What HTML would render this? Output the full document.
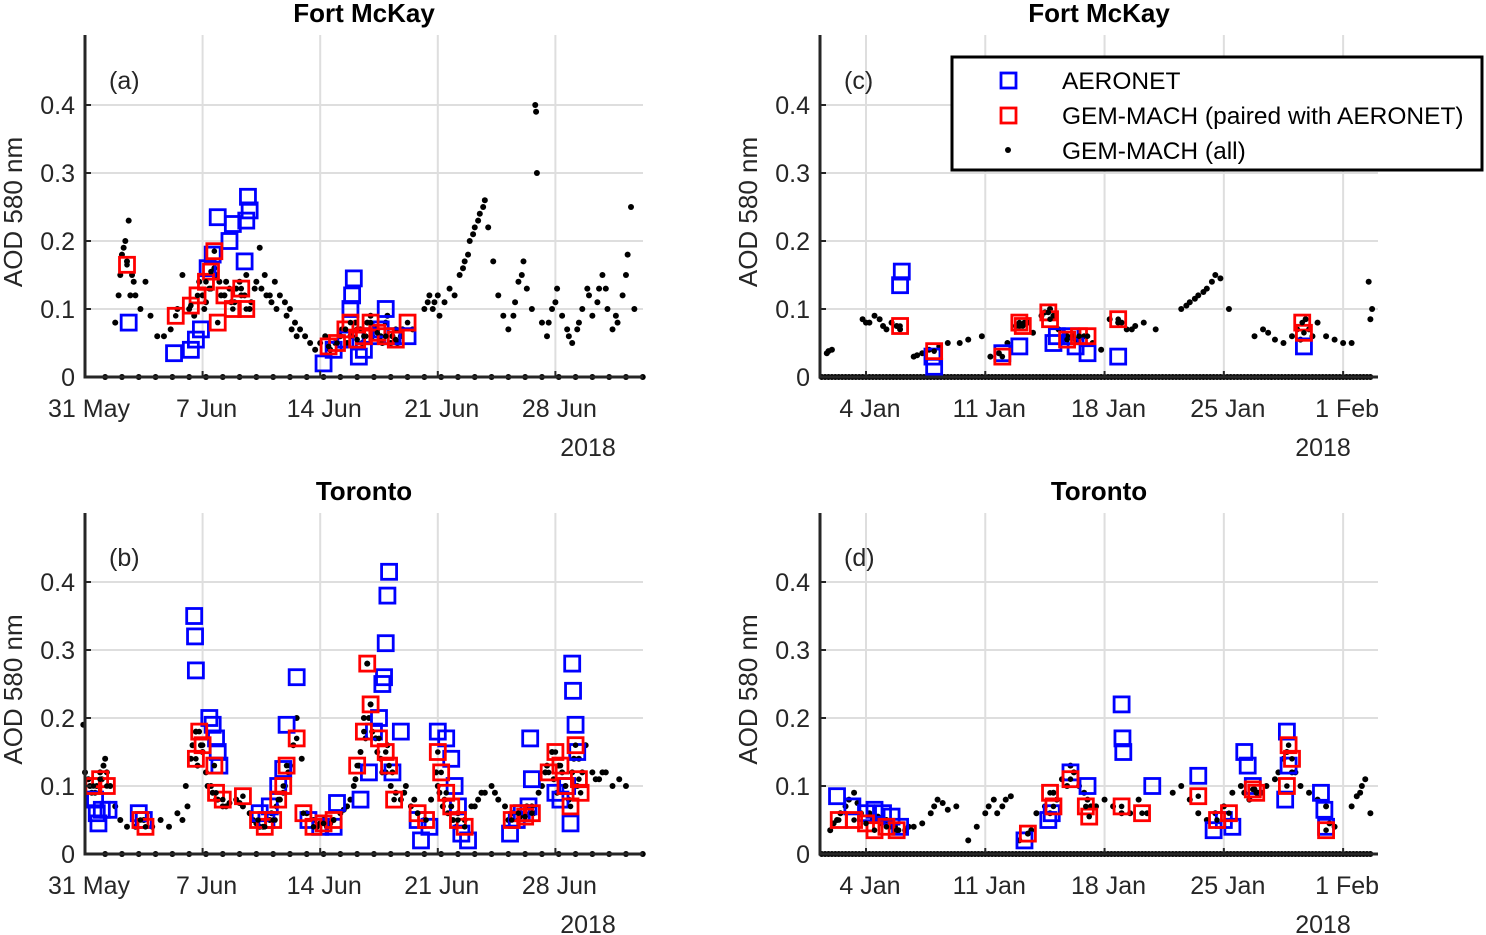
<!DOCTYPE html>
<html><head><meta charset="utf-8"><style>
html,body{margin:0;padding:0;background:#fff;}
svg{display:block;font-family:"Liberation Sans",Arial,sans-serif;}
</style></head><body>
<svg id="chart" width="1486" height="935" viewBox="0 0 1486 935"></svg>
<script>
// ---- Data (day offsets; panels a,b from 31 May 2018, panels c,d from 4 Jan 2018) ----
const panelLetters = ["(a)","(b)","(c)","(d)"];
const yTickLabels = ["0","0.1","0.2","0.3","0.4"];
const yTickValues = [0,0.1,0.2,0.3,0.4];
const juneTickLabels = ["31 May","7 Jun","14 Jun","21 Jun","28 Jun"];
const juneTickDays = [0,7,14,21,28];
const janTickLabels = ["4 Jan","11 Jan","18 Jan","25 Jan","1 Feb"];
const janTickDays = [0,7,14,21,28];

const aAllDays = [1.8,2.0,2.2,2.4,2.6,2.8,3.0,3.3,3.6,3.9,4.3,4.7,5.1,5.5,5.8,6.2,6.5,6.8,7.1,7.4,7.7,8.0,8.3,8.6,8.9,9.2,9.5,9.8,10.1,10.4,10.7,11.0,11.3,11.6,11.9,12.2,12.5,12.8,13.1,13.4,13.7,14.0,14.3,14.6,14.9,15.2,15.5,15.8,16.1,16.4,16.7,17.0,17.3,17.6,17.9,18.2,18.5,18.8,19.5,20.2,20.5,20.8,21.1,21.4,21.7,22.0,22.3,22.6,22.9,23.2,23.5,23.8,24.0,24.3,24.6,24.9,25.2,25.5,25.8,26.1,26.3,26.6,26.8,26.85,26.9,27.2,27.5,27.8,28.1,28.4,28.7,29.0,29.3,29.6,29.9,30.2,30.5,30.8,31.1,31.4,31.7,32.0,32.3,32.5,32.7,
 7.0,7.2,7.5,7.8,8.1,8.4,8.7,9.0,9.3,9.6,9.9,10.2,10.5,10.8,11.1,11.4,15.0,15.3,15.6,15.9,16.2,16.5,16.8,17.1,17.4,17.7,18.0,18.3,18.6,18.9,12.0,12.3,12.6,2.1,2.3,2.5,2.7,2.9,20.4,20.7,21.0,22.5,22.8,23.1,23.4,23.7,30.0,31.0,32.2,25.6,26.0,27.6,28.0,28.8,29.4,30.6,31.6];
const aAllVals = [0.08,0.12,0.18,0.2,0.23,0.15,0.12,0.1,0.14,0.09,0.06,0.06,0.07,0.1,0.15,0.1,0.09,0.14,0.1,0.13,0.16,0.14,0.12,0.13,0.11,0.14,0.12,0.1,0.13,0.19,0.15,0.12,0.14,0.12,0.11,0.1,0.08,0.07,0.06,0.05,0.04,0.05,0.06,0.04,0.05,0.06,0.07,0.06,0.08,0.07,0.06,0.09,0.07,0.06,0.08,0.05,0.07,0.06,0.07,0.1,0.12,0.11,0.09,0.11,0.13,0.12,0.15,0.17,0.2,0.22,0.24,0.26,0.22,0.17,0.12,0.09,0.07,0.09,0.14,0.17,0.13,0.1,0.4,0.39,0.3,0.08,0.06,0.1,0.13,0.09,0.07,0.05,0.07,0.1,0.13,0.09,0.11,0.15,0.1,0.07,0.08,0.12,0.18,0.25,0.1,
 0.12,0.11,0.13,0.15,0.12,0.14,0.11,0.13,0.12,0.15,0.11,0.14,0.13,0.12,0.11,0.1,0.05,0.07,0.05,0.06,0.07,0.05,0.08,0.06,0.07,0.05,0.09,0.06,0.05,0.07,0.09,0.07,0.06,0.15,0.19,0.17,0.12,0.14,0.11,0.1,0.12,0.16,0.18,0.21,0.23,0.25,0.12,0.13,0.15,0.11,0.15,0.08,0.11,0.06,0.08,0.13,0.09];
const aAeroDays = [2.6,5.3,6.3,6.6,6.9,7.3,7.6,7.9,8.6,8.8,9.5,9.6,9.7,9.8,14.2,14.8,15.5,15.8,15.9,16.0,16.3,16.6,17.0,17.6,17.9,18.3,19.2];
const aAeroVals = [0.08,0.035,0.04,0.055,0.07,0.16,0.18,0.235,0.2,0.225,0.17,0.23,0.265,0.245,0.02,0.04,0.055,0.1,0.12,0.145,0.03,0.04,0.06,0.07,0.1,0.06,0.06];
const aGemDays = [2.5,5.4,6.3,6.7,7.2,7.5,7.7,7.9,8.3,8.8,9.3,9.6,14.5,15.0,15.5,15.8,16.2,16.6,17.0,17.4,17.9,18.5,19.2];
const aGemVals = [0.165,0.09,0.105,0.12,0.14,0.155,0.185,0.08,0.12,0.1,0.13,0.1,0.045,0.05,0.07,0.08,0.055,0.06,0.08,0.065,0.06,0.055,0.08];

const bAllDays = [-0.1,0,0.3,0.6,0.9,1.2,1.5,1.8,2.1,2.5,3.0,3.5,4.0,4.5,5.0,5.5,6.0,6.3,6.6,6.9,7.2,7.5,7.8,8.2,8.6,9.0,9.4,9.8,10.2,10.6,11.0,11.4,11.8,12.1,12.4,12.6,12.9,13.2,13.6,14.0,14.4,14.8,15.2,15.6,16.0,16.3,16.6,16.8,17.0,17.3,17.6,17.9,18.2,18.5,18.8,19.1,19.4,19.8,20.2,20.6,21.0,21.4,21.8,22.2,22.6,23.0,23.4,23.8,24.2,24.6,25.0,25.4,25.8,26.2,26.6,27.0,27.4,27.8,28.2,28.6,29.0,29.4,29.8,30.2,30.6,31.0,31.4,31.8,32.2,
 0.2,0.4,0.7,1.0,6.4,6.7,7.0,7.3,7.6,7.9,8.4,11.1,11.3,11.6,11.9,12.2,13.8,14.2,14.6,16.1,16.4,16.7,16.9,17.1,17.4,17.7,18.0,18.3,20.9,21.1,21.3,21.6,21.9,22.1,25.2,25.5,25.9,26.3,26.7,27.2,27.5,27.9,28.1,28.4,28.8,29.1,29.3,29.6,30.4,30.8,1.1,1.3,5.8,6.1,9.2,10.0,10.4,15.4,15.8,19.0,19.6,23.2,23.6,24.4];
const bAllVals = [0.19,0.12,0.1,0.09,0.12,0.14,0.1,0.07,0.05,0.04,0.04,0.05,0.04,0.05,0.04,0.06,0.1,0.14,0.18,0.16,0.12,0.1,0.08,0.07,0.075,0.08,0.07,0.06,0.045,0.04,0.05,0.07,0.09,0.12,0.16,0.2,0.14,0.06,0.05,0.045,0.04,0.05,0.06,0.07,0.1,0.13,0.2,0.28,0.22,0.17,0.14,0.12,0.1,0.09,0.08,0.1,0.07,0.06,0.05,0.08,0.1,0.08,0.07,0.06,0.05,0.07,0.08,0.09,0.1,0.08,0.07,0.06,0.05,0.06,0.07,0.09,0.12,0.15,0.13,0.1,0.12,0.14,0.16,0.12,0.11,0.12,0.1,0.11,0.1,
 0.11,0.09,0.1,0.11,0.16,0.13,0.15,0.1,0.09,0.08,0.07,0.06,0.05,0.08,0.1,0.13,0.04,0.05,0.045,0.11,0.15,0.17,0.2,0.18,0.15,0.12,0.16,0.12,0.12,0.09,0.07,0.06,0.05,0.04,0.05,0.06,0.055,0.07,0.06,0.1,0.13,0.11,0.09,0.12,0.08,0.14,0.1,0.12,0.11,0.12,0.13,0.12,0.05,0.07,0.075,0.05,0.04,0.065,0.08,0.09,0.08,0.07,0.09,0.09];
const bAeroDays = [0.6,0.7,0.8,1.0,1.4,3.2,3.5,6.5,6.55,6.6,7.4,7.6,7.8,7.9,8.0,10.4,10.8,11.0,11.5,11.8,12.0,12.6,13.3,14.0,14.8,15.0,16.4,16.9,17.2,17.5,17.7,17.8,17.9,18.0,18.1,18.3,18.8,19.8,20.0,20.5,21.0,21.5,21.8,22.0,22.2,22.4,22.8,25.3,25.7,26.0,26.4,26.6,26.5,28.0,28.3,28.7,28.9,29.0,29.05,29.2,29.3];
const bAeroVals = [0.08,0.06,0.045,0.065,0.065,0.06,0.05,0.35,0.32,0.27,0.2,0.19,0.17,0.15,0.13,0.06,0.05,0.07,0.1,0.125,0.19,0.26,0.05,0.04,0.04,0.075,0.08,0.12,0.18,0.2,0.25,0.26,0.31,0.38,0.415,0.12,0.18,0.05,0.02,0.04,0.18,0.17,0.14,0.1,0.07,0.03,0.02,0.03,0.05,0.06,0.07,0.11,0.17,0.09,0.08,0.1,0.045,0.28,0.24,0.19,0.15];
const bGemDays = [0.5,0.9,1.3,3.3,3.6,6.6,6.8,7.0,7.7,7.8,8.2,9.4,10.3,10.7,11.2,11.5,11.8,12.0,12.6,13.0,13.6,14.2,14.8,16.2,16.6,16.8,17.0,17.5,17.9,18.1,18.4,19.8,20.3,21.0,21.2,21.5,21.8,22.2,22.6,25.4,25.8,26.2,26.6,27.6,28.0,28.3,28.6,28.9,29.2,29.4,29.5];
const bGemVals = [0.1,0.11,0.1,0.05,0.04,0.14,0.18,0.16,0.13,0.09,0.08,0.085,0.05,0.04,0.05,0.08,0.1,0.13,0.17,0.06,0.04,0.045,0.05,0.13,0.18,0.28,0.22,0.17,0.15,0.13,0.08,0.06,0.05,0.15,0.12,0.09,0.07,0.05,0.04,0.05,0.06,0.055,0.06,0.12,0.15,0.13,0.1,0.07,0.16,0.11,0.09];

const cAllDays = [-2.3,-2.0,-0.2,0.2,0.5,1.0,1.5,2.0,2.8,3.3,3.7,4.3,4.8,5.5,6.0,6.8,7.3,7.8,8.3,8.8,9.3,9.8,10.3,10.8,11.3,11.8,12.3,12.8,13.3,13.8,14.3,14.8,15.3,15.8,16.3,17.0,18.5,19.0,19.5,20.0,20.5,20.8,21.3,22.8,23.3,24.0,24.5,25.0,25.5,26.0,26.5,27.0,27.5,28.0,28.5,29.5,29.7,29.6,
 -2.2,0.0,0.8,1.2,1.8,3.0,9.0,9.5,10.5,11.0,11.6,12.1,12.6,15.0,15.6,18.8,19.3,19.8,20.3,23.6,25.3,25.8,26.2];
const cAllVals = [0.035,0.04,0.085,0.08,0.09,0.075,0.08,0.07,0.03,0.035,0.04,0.045,0.05,0.05,0.055,0.06,0.03,0.035,0.05,0.075,0.08,0.065,0.09,0.1,0.07,0.06,0.055,0.06,0.05,0.04,0.085,0.08,0.07,0.075,0.08,0.07,0.1,0.11,0.12,0.13,0.15,0.145,0.1,0.06,0.07,0.055,0.05,0.06,0.055,0.07,0.08,0.06,0.055,0.05,0.05,0.14,0.1,0.085,
 0.038,0.08,0.085,0.07,0.075,0.032,0.075,0.08,0.095,0.09,0.055,0.06,0.058,0.08,0.07,0.105,0.115,0.125,0.14,0.065,0.07,0.085,0.06];
const cAeroDays = [2.0,2.1,3.9,4.0,8.0,9.0,11.0,11.2,12.0,12.3,13.0,14.8,25.7];
const cAeroVals = [0.135,0.155,0.03,0.015,0.035,0.045,0.05,0.06,0.06,0.045,0.035,0.03,0.045];
const cGemDays = [2.0,4.0,8.0,9.0,9.2,10.7,10.8,11.8,12.5,13.0,14.8,25.6,25.7];
const cGemVals = [0.075,0.038,0.03,0.08,0.075,0.095,0.085,0.055,0.06,0.06,0.085,0.08,0.065];

const dAllDays = [-2.1,-1.7,-1.2,-0.7,-0.3,0.2,0.7,1.2,1.7,2.3,2.8,3.3,3.8,4.2,4.8,5.3,6.0,6.5,7.0,7.5,8.0,8.5,9.0,9.5,10.0,10.5,11.0,11.5,12.0,12.5,13.0,13.5,14.0,14.5,15.0,15.5,16.0,16.5,18.0,18.5,19.0,19.5,20.0,20.5,21.0,21.5,22.0,22.5,23.0,23.5,24.0,24.5,25.0,25.5,26.0,26.5,27.0,27.5,28.5,29.0,29.3,29.6,
 -1.9,-1.5,-1.0,-0.5,0.4,0.9,1.4,1.9,2.5,4.0,4.5,7.2,7.7,8.2,9.7,10.8,11.2,11.8,12.2,12.8,13.2,22.2,22.8,23.2,24.2,24.7,25.2,27.2,28.8,29.1];
const dAllVals = [0.035,0.05,0.07,0.09,0.06,0.06,0.055,0.05,0.04,0.035,0.04,0.045,0.06,0.08,0.065,0.07,0.02,0.04,0.06,0.08,0.07,0.085,0.02,0.03,0.06,0.07,0.09,0.11,0.13,0.1,0.08,0.07,0.08,0.07,0.06,0.06,0.08,0.06,0.09,0.1,0.08,0.06,0.05,0.06,0.07,0.09,0.1,0.08,0.09,0.1,0.11,0.14,0.12,0.1,0.09,0.08,0.07,0.04,0.07,0.09,0.11,0.06,
 0.045,0.06,0.08,0.075,0.05,0.045,0.04,0.035,0.04,0.07,0.075,0.07,0.06,0.08,0.035,0.06,0.08,0.1,0.12,0.09,0.07,0.09,0.095,0.09,0.12,0.15,0.12,0.045,0.085,0.1];
const dAeroDays = [-1.7,-0.8,0,0.5,1.0,1.5,2.0,9.3,10.7,10.9,12.0,13.0,15.0,15.05,15.1,16.8,19.5,20.4,21.0,21.5,22.2,22.4,22.7,24.7,24.8,24.6,26.7,26.9,27.0];
const dAeroVals = [0.085,0.07,0.06,0.065,0.06,0.055,0.04,0.02,0.05,0.06,0.12,0.1,0.22,0.17,0.15,0.1,0.115,0.035,0.05,0.04,0.15,0.13,0.1,0.18,0.13,0.08,0.09,0.065,0.04];
const dGemDays = [-1.6,-0.7,0.0,0.5,1.2,1.8,9.5,10.8,11.0,12.0,12.9,13.1,15.0,16.2,19.5,20.6,21.3,22.7,22.9,24.8,25.0,24.7,27.0];
const dGemVals = [0.05,0.05,0.045,0.035,0.04,0.035,0.03,0.09,0.07,0.11,0.07,0.055,0.07,0.06,0.085,0.05,0.06,0.095,0.09,0.16,0.14,0.1,0.035];

// ---- Rendering ----
const svg = document.getElementById('chart');
const NS = 'http://www.w3.org/2000/svg';
function mk(tag, attrs, parent){
  const e = document.createElementNS(NS, tag);
  for (const k in attrs) e.setAttribute(k, attrs[k]);
  (parent||svg).appendChild(e);
  return e;
}
function txt(str, attrs, parent){ const t = mk('text', attrs, parent); t.textContent = str; return t; }

const panels = [
  {id:'a', title:'Fort McKay', x0:85, x1:643, yTop:35, yZero:377, tick0:85, ppd:16.8, dEnd:33, ticks:juneTickDays, tickLabels:juneTickLabels, zeroStep:1, zeroStart:0.2, all:[aAllDays,aAllVals], aero:[aAeroDays,aAeroVals], gem:[aGemDays,aGemVals], letter:panelLetters[0]},
  {id:'b', title:'Toronto', x0:85, x1:643, yTop:513, yZero:854, tick0:85, ppd:16.8, dEnd:33, ticks:juneTickDays, tickLabels:juneTickLabels, zeroStep:1, zeroStart:0.2, all:[bAllDays,bAllVals], aero:[bAeroDays,bAeroVals], gem:[bGemDays,bGemVals], letter:panelLetters[1]},
  {id:'c', title:'Fort McKay', x0:820, x1:1378, yTop:35, yZero:377, tick0:866, ppd:17.04, dEnd:30.05, ticks:janTickDays, tickLabels:janTickLabels, zeroStep:0.2, zeroStart:-2.6, all:[cAllDays,cAllVals], aero:[cAeroDays,cAeroVals], gem:[cGemDays,cGemVals], letter:panelLetters[2]},
  {id:'d', title:'Toronto', x0:820, x1:1378, yTop:513, yZero:854, tick0:866, ppd:17.04, dEnd:30.05, ticks:janTickDays, tickLabels:janTickLabels, zeroStep:0.2, zeroStart:-2.6, all:[dAllDays,dAllVals], aero:[dAeroDays,dAeroVals], gem:[dGemDays,dGemVals], letter:panelLetters[3]}
];

panels.forEach(p => {
  const g = mk('g', {});
  
  
  const xs = d => p.tick0 + d * p.ppd;
  const ys = v => p.yZero - v * 680;

  yTickValues.forEach(v => { if (v>0) mk('line',{x1:p.x0,x2:p.x1,y1:ys(v),y2:ys(v),stroke:'#dedede','stroke-width':2},g); });
  p.ticks.forEach(d => { const x = xs(d); if (x > p.x0+3) mk('line',{x1:x,x2:x,y1:p.yTop,y2:p.yZero,stroke:'#dedede','stroke-width':2},g); });

  const t = txt(p.title,{x:(p.x0+p.x1)/2,y:p.yTop-13,'font-size':26,'font-weight':'bold','text-anchor':'middle',fill:'#000'},g);
  
  
  const l = txt(p.letter,{x:p.x0+24,y:ys(0.4)-16,'font-size':25,fill:'#262626'},g);
  
  

  for (let d = p.zeroStart; d <= p.dEnd - 0.3; d += p.zeroStep) {
    mk('circle',{cx:xs(d + (p.zeroStep===1?1.0:0)),cy:p.yZero,r:3,fill:'#000'},g);
  }
  p.all[0].forEach((d,i) => {
    const c = mk('circle',{cx:xs(d),cy:ys(p.all[1][i]),r:3,fill:'#000'},g);
    
    
  });
  p.aero[0].forEach((d,i) => {
    const r = mk('rect',{x:xs(d)-7.5,y:ys(p.aero[1][i])-7.5,width:15,height:15,fill:'none',stroke:'#0000ff','stroke-width':2.8},g);
    
    
  });
  p.gem[0].forEach((d,i) => {
    const r = mk('rect',{x:xs(d)-7.5,y:ys(p.gem[1][i])-7.5,width:15,height:15,fill:'none',stroke:'#ff0000','stroke-width':2.8},g);
    
    
  });
  p.gem[0].forEach((d,i) => { mk('circle',{cx:xs(d),cy:ys(p.gem[1][i]),r:2.8,fill:'#000'},g); });

  mk('line',{x1:p.x0,x2:p.x0,y1:p.yTop,y2:p.yZero+1.5,stroke:'#262626','stroke-width':3},g);
  mk('line',{x1:p.x0,x2:p.x1,y1:p.yZero,y2:p.yZero,stroke:'#262626','stroke-width':3},g);
  yTickValues.forEach((v,i) => {
    mk('line',{x1:p.x0,x2:p.x0+6,y1:ys(v),y2:ys(v),stroke:'#262626','stroke-width':2},g);
    txt(yTickLabels[i],{x:p.x0-10,y:ys(v)+9,'font-size':25,'text-anchor':'end',fill:'#262626'},g);
  });
  p.ticks.forEach((d,i) => {
    const x = xs(d);
    mk('line',{x1:x,x2:x,y1:p.yZero,y2:p.yZero-6,stroke:'#262626','stroke-width':2},g);
    txt(p.tickLabels[i],{x:x+4,y:p.yZero+40,'font-size':25,'text-anchor':'middle',fill:'#262626'},g);
  });
  txt('2018',{x:p.x1-55,y:p.yZero+79,'font-size':25,'text-anchor':'middle',fill:'#262626'},g);
  const yl = txt('AOD 580 nm',{x:0,y:0,'font-size':26,'text-anchor':'middle',fill:'#262626',transform:`translate(${p.x0-63},${(p.yTop+p.yZero)/2+6}) rotate(-90)`},g);
  
  
});

const lg = mk('g',{});


mk('rect',{x:952,y:57,width:530,height:113,fill:'#fff',stroke:'#000','stroke-width':3},lg);
mk('rect',{x:1001,y:73,width:15,height:15,fill:'none',stroke:'#0000ff','stroke-width':2.8},lg);
txt('AERONET',{x:1062,y:89,'font-size':24.5,fill:'#000'},lg);
mk('rect',{x:1001,y:108,width:15,height:15,fill:'none',stroke:'#ff0000','stroke-width':2.8},lg);
txt('GEM-MACH (paired with AERONET)',{x:1062,y:124,'font-size':24.5,fill:'#000'},lg);
mk('circle',{cx:1008,cy:150,r:3,fill:'#000'},lg);
txt('GEM-MACH (all)',{x:1062,y:159,'font-size':24.5,fill:'#000'},lg);
</script>
</body></html>
